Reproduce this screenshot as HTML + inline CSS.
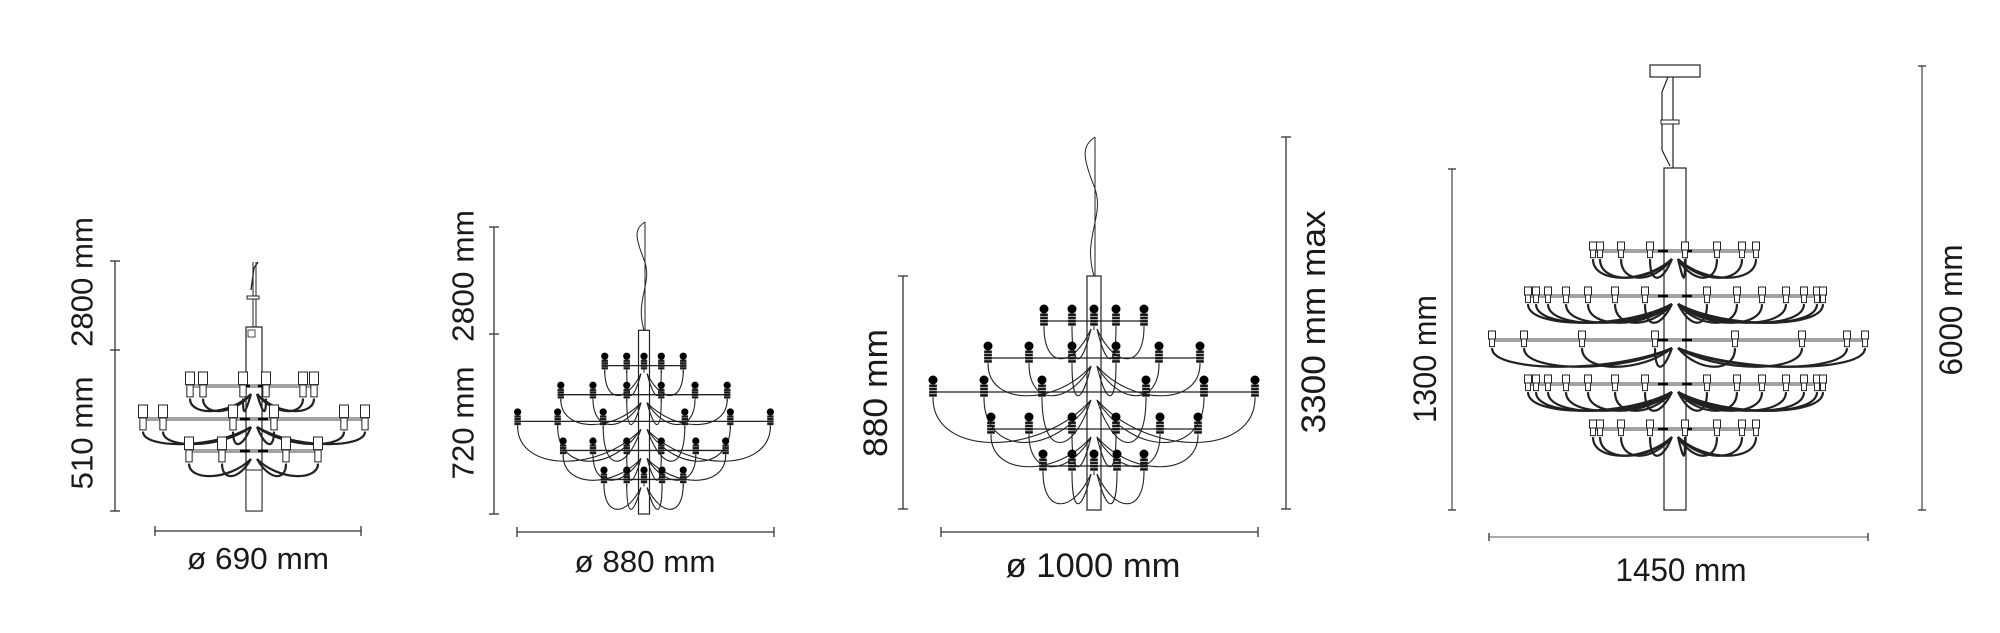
<!DOCTYPE html>
<html><head><meta charset="utf-8"><style>
html,body{margin:0;padding:0;background:#fff;}
svg{display:block;}
text{font-family:"Liberation Sans",sans-serif;fill:#1a1a1a;}
</style></head><body>
<svg id="s" width="2000" height="633" viewBox="0 0 2000 633" xmlns="http://www.w3.org/2000/svg">
<g stroke="#333" stroke-width="1.3" fill="none">
<line x1="115" y1="261" x2="115" y2="511"/><line x1="110" y1="261" x2="120" y2="261"/><line x1="110" y1="350" x2="120" y2="350"/><line x1="110" y1="511" x2="120" y2="511"/>
<line x1="155" y1="531" x2="361" y2="531"/><line x1="155" y1="526" x2="155" y2="536"/><line x1="361" y1="526" x2="361" y2="536"/>
<line x1="494" y1="227" x2="494" y2="514"/><line x1="489" y1="227" x2="499" y2="227"/><line x1="489" y1="334" x2="499" y2="334"/><line x1="489" y1="514" x2="499" y2="514"/>
<line x1="517" y1="532" x2="774" y2="532"/><line x1="517" y1="527" x2="517" y2="537"/><line x1="774" y1="527" x2="774" y2="537"/>
<line x1="903" y1="276" x2="903" y2="509"/><line x1="898" y1="276" x2="908" y2="276"/><line x1="898" y1="509" x2="908" y2="509"/>
<line x1="1286" y1="137" x2="1286" y2="509"/><line x1="1281" y1="137" x2="1291" y2="137"/><line x1="1281" y1="509" x2="1291" y2="509"/>
<line x1="941" y1="532" x2="1258" y2="532"/><line x1="941" y1="527" x2="941" y2="537"/><line x1="1258" y1="527" x2="1258" y2="537"/>
<line x1="1452" y1="169" x2="1452" y2="510" stroke="#555"/><line x1="1448" y1="169" x2="1456" y2="169"/><line x1="1448" y1="510" x2="1456" y2="510"/>
<line x1="1922" y1="66" x2="1922" y2="510" stroke="#555"/><line x1="1918" y1="66" x2="1926" y2="66"/><line x1="1918" y1="510" x2="1926" y2="510"/>
<line x1="1489" y1="537" x2="1868" y2="537" stroke="#777"/><line x1="1489" y1="533" x2="1489" y2="541"/><line x1="1868" y1="533" x2="1868" y2="541"/>
</g>
<g id="draw"></g>
<text transform="translate(82,282) rotate(-90)" text-anchor="middle" dominant-baseline="central" font-size="31" textLength="130" lengthAdjust="spacingAndGlyphs">2800 mm</text>
<text transform="translate(82,433) rotate(-90)" text-anchor="middle" dominant-baseline="central" font-size="31" textLength="113" lengthAdjust="spacingAndGlyphs">510 mm</text>
<text x="258" y="569" text-anchor="middle" font-size="31" textLength="142" lengthAdjust="spacingAndGlyphs">ø 690 mm</text>
<text transform="translate(463,276) rotate(-90)" text-anchor="middle" dominant-baseline="central" font-size="31" textLength="132" lengthAdjust="spacingAndGlyphs">2800 mm</text>
<text transform="translate(463,423) rotate(-90)" text-anchor="middle" dominant-baseline="central" font-size="31" textLength="113" lengthAdjust="spacingAndGlyphs">720 mm</text>
<text x="645" y="572" text-anchor="middle" font-size="31" textLength="141" lengthAdjust="spacingAndGlyphs">ø 880 mm</text>
<text transform="translate(876,393) rotate(-90)" text-anchor="middle" dominant-baseline="central" font-size="34" textLength="128" lengthAdjust="spacingAndGlyphs">880 mm</text>
<text transform="translate(1314,322) rotate(-90)" text-anchor="middle" dominant-baseline="central" font-size="34" textLength="223" lengthAdjust="spacingAndGlyphs">3300 mm max</text>
<text x="1093" y="577" text-anchor="middle" font-size="34" textLength="175" lengthAdjust="spacingAndGlyphs">ø 1000 mm</text>
<text transform="translate(1425,359) rotate(-90)" text-anchor="middle" dominant-baseline="central" font-size="32" textLength="128" lengthAdjust="spacingAndGlyphs">1300 mm</text>
<text transform="translate(1951,310) rotate(-90)" text-anchor="middle" dominant-baseline="central" font-size="32" textLength="131" lengthAdjust="spacingAndGlyphs">6000 mm</text>
<text x="1681" y="581" text-anchor="middle" font-size="32" textLength="131" lengthAdjust="spacingAndGlyphs">1450 mm</text>
</svg>
<script>
var G=document.getElementById("draw"),out="";
function L(x1,y1,x2,y2,w,c){out+='<line x1="'+x1+'" y1="'+y1+'" x2="'+x2+'" y2="'+y2+'" stroke="'+(c||"#222")+'" stroke-width="'+(w||1.2)+'"/>';}
function R(x,y,w,h,f,sw){out+='<rect x="'+x+'" y="'+y+'" width="'+w+'" height="'+h+'" fill="'+(f||"#fff")+'" stroke="#222" stroke-width="'+(sw||1)+'"/>';}
function C(x,y,r){out+='<circle cx="'+x+'" cy="'+y+'" r="'+r+'" fill="#000"/>';}
function P(d,w,c){out+='<path d="'+d+'" fill="none" stroke="'+(c||"#222")+'" stroke-width="'+(w||1.2)+'"/>';}
function wire(bx,by,cx,ay,sag,w){var s=bx<cx?-1:1;P("M"+bx+","+by+" C"+bx+","+(ay+sag)+" "+(cx+s*(Math.abs(bx-cx)*0.3+6))+","+(ay+sag)+" "+(cx+s*3)+","+(ay+8),w);}
function ballChand(cx,bot,k,topY,r){
 var tiers=[[-189,[-50,-22,0,22,50],1],[-152,[-106,-65,-22,22,65,106],1],[-118,[-161,-110,-52,52,110,161],1],[-81,[-103,-65,-22,22,66,104],1],[-44,[-51,-22,0,23,50],1]];
 var pw=14*k,ptop=bot-234*k;
 P("M"+cx+","+ptop+" C"+(cx-12*k)+","+(ptop-40*k)+" "+(cx+12*k)+","+(ptop-60*k)+" "+cx+","+(ptop-90*k)+" S"+(cx-12*k)+","+(ptop-130*k)+" "+(cx+1)+","+topY,1);
 L(cx+1,topY,cx+1,ptop,1);
 R(cx-pw/2,ptop,pw,bot-ptop,"#fff",1.2);
 tiers.forEach(function(t,i){var ay=bot+t[0]*k,xs=t[1];var mn=Math.min.apply(0,xs)*k,mx=Math.max.apply(0,xs)*k;
  L(cx+mn-2,ay,cx+mx+2,ay,1.3);
  xs.forEach(function(x){var bx=cx+x*k;
   var sag=(i==2?65:48)*k;
   if(Math.abs(x)>1) wire(bx,ay+6*k,cx,ay,sag,1.1);
   C(bx,ay-12*k,r);
   for(var j=0;j<4;j++)R(bx-r*0.75,ay-7*k+j*3.2*k,r*1.5,1.6*k,"#000",0);
   L(bx,ay+5*k,bx,ay+9*k,1);
  });
 });
}
ballChand(1094,510,1,137,4.5);
ballChand(644,514,0.785,222,3.6);
function sockChand(cx,pw,ptop,bot,tiers,bw,bh,sw,sag){
 R(cx-pw/2,ptop,pw,bot-ptop,"#fff",1.2);
 tiers.forEach(function(t){var ay=t[0],xs=t[1];var mn=Math.min.apply(0,xs),mx=Math.max.apply(0,xs);
  L(mn-3,ay-1,mx+3,ay-1,1.1,"#444");L(mn-3,ay+1,mx+3,ay+1,1.1,"#444");
  L(cx-pw/2-6,ay,cx-pw/2+4,ay,3,"#000");L(cx+pw/2-4,ay,cx+pw/2+6,ay,3,"#000");
  xs.forEach(function(bx){
   if(Math.abs(bx-cx)>3){wire(bx,ay+bh*0.9,cx,ay,sag,2.2);wire(bx,ay+bh*0.9,cx,ay,sag,0.8);}
   R(bx-bw/2,ay-bh,bw,bh*0.9,"#fff",1);
   R(bx-bw*0.35,ay-1,bw*0.7,bh*0.85,"#fff",1);
  });
 });
}
L(253,262,253,327,1);L(256,262,256,327,1);P("M251,290 L254,268 L258,262",1.3);R(247,296,12,3,"#fff",1);
sockChand(254,16,327,511,[[386,[190,203,243,266,303,314]],[419,[143,163,233,274,344,365]],[451,[189,222,286,318]]],9,14,1,30);
R(248,330,7,7,"#fff",0.8);R(246,470,16,41,"#fff",1);
R(1650,65,50,12,"#fff",1.2);
P("M1673,77 L1673,168",1.2);P("M1668,77 L1662,92 L1662,150 L1670,166",1.2);R(1661,120,18,4,"#fff",1);
var t1=[1593,1600,1621,1650,1685,1717,1742,1756],t2=[1528,1536,1548,1566,1588,1615,1645,1707,1737,1762,1786,1804,1817,1823],t3=[1492,1524,1582,1655,1735,1802,1847,1865];
sockChand(1675,22,168,510,[[251,t1],[296,t2],[340,t3],[384,t2],[429,t1]],7,9,1,33);
G.innerHTML=out;
</script>
</body></html>
